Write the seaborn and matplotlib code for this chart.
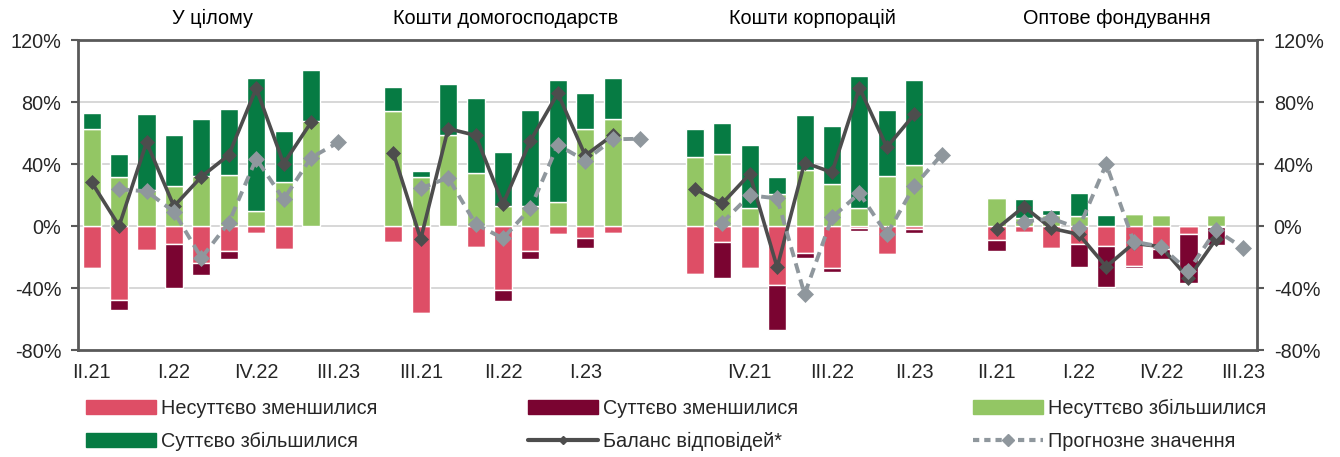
import numpy as np
import seaborn as sns
import matplotlib.pyplot as plt
import matplotlib.transforms as mtransforms
from matplotlib.patches import Patch
from matplotlib.lines import Line2D

# Дані: частки відповідей (%) по кварталах, окремо для кожної панелі
quarters = ["II.21", "III.21", "IV.21", "I.22", "II.22", "III.22", "IV.22", "I.23", "II.23", "III.23"]
panels = ["У цілому", "Кошти домогосподарств", "Кошти корпорацій", "Оптове фондування"]

# У цілому
total_weak_dec = [-27.3, -47.7, -15.5, -11.8, -23.9, -16.3, -4.7, -14.8, 0.0]
total_strong_dec = [0.0, -6.5, 0.0, -28.0, -7.5, -5.2, 0.0, 0.0, 0.0]
total_weak_inc = [62.6, 31.6, 23.2, 26.0, 32.5, 32.7, 9.7, 28.4, 67.5]
total_strong_inc = [10.5, 14.6, 49.3, 32.5, 36.3, 42.6, 85.8, 33.1, 33.1]
total_balance = [28.2, 0.0, 54.0, 12.7, 31.8, 45.8, 88.8, 40.2, 66.9]
total_forecast = [np.nan, 23.7, 22.4, 9.2, -20.6, 2.2, 43.4, 17.2, 44.1, 54.0]

# Кошти домогосподарств
hh_weak_dec = [-10.3, -56.1, 0.0, -13.3, -41.3, -15.9, -4.9, -8.0, -4.3]
hh_strong_dec = [0.0, 0.0, 0.0, -0.7, -6.9, -5.4, 0.0, -6.2, 0.0]
hh_weak_inc = [74.4, 31.6, 58.7, 34.4, 13.1, 13.1, 15.7, 62.8, 69.0]
hh_strong_inc = [15.1, 3.7, 32.9, 48.4, 34.9, 61.5, 78.7, 23.0, 26.3]
hh_balance = [47.1, -8.4, 62.8, 58.5, 14.2, 55.0, 85.6, 45.5, 58.6]
hh_forecast = [np.nan, 24.3, 31.2, 1.3, -8.0, 11.4, 52.3, 42.2, 55.9, 56.3]

# Кошти корпорацій
corp_weak_dec = [-31.2, -10.1, -26.9, -38.1, -17.6, -26.9, -1.1, -18.1, -1.9]
corp_strong_dec = [0.0, -23.2, 0.0, -29.0, -3.3, -3.0, -1.9, 0.0, -2.4]
corp_weak_inc = [44.7, 46.5, 11.8, 20.6, 36.1, 27.1, 11.4, 32.3, 39.1]
corp_strong_inc = [17.7, 19.7, 40.5, 11.0, 35.7, 37.6, 85.4, 42.3, 55.3]
corp_balance = [23.9, 14.6, 33.5, -26.7, 40.9, 34.6, 89.2, 50.8, 72.0]
corp_forecast = [np.nan, 2.2, 19.8, 17.8, -44.1, 5.6, 21.1, -5.4, 25.8, 46.0]

# Оптове фондування
whs_weak_dec = [-9.0, -3.7, -14.0, -11.6, -12.7, -25.6, -14.8, -5.4, -0.5]
whs_strong_dec = [-7.1, 0.0, 0.0, -14.9, -26.9, -1.7, -6.5, -31.4, -11.8]
whs_weak_inc = [18.3, 4.9, 7.1, 6.5, 0.0, 8.0, 6.9, 0.0, 7.1]
whs_strong_inc = [0.4, 12.3, 3.2, 14.6, 7.1, 0.4, 0.0, 0.0, 0.0]
whs_balance = [-1.9, 12.5, -1.5, -5.4, -26.2, -11.2, -13.3, -33.8, -8.6]
whs_forecast = [np.nan, 2.8, 4.9, -1.5, 40.0, -10.1, -13.3, -29.0, -2.6, -14.3]

panel_data = [
    (total_weak_dec, total_strong_dec, total_weak_inc, total_strong_inc, total_balance, total_forecast),
    (hh_weak_dec, hh_strong_dec, hh_weak_inc, hh_strong_inc, hh_balance, hh_forecast),
    (corp_weak_dec, corp_strong_dec, corp_weak_inc, corp_strong_inc, corp_balance, corp_forecast),
    (whs_weak_dec, whs_strong_dec, whs_weak_inc, whs_strong_inc, whs_balance, whs_forecast),
]

c_weak_dec = "#DE4E66"
c_strong_dec = "#7A0431"
c_weak_inc = "#93C664"
c_strong_inc = "#067B43"
c_balance = "#4D4D4D"
c_forecast = "#8F979D"

sns.set_theme(style="white")
plt.rcParams["font.family"] = ["Liberation Sans", "DejaVu Sans"]
fs = 14.3

fig = plt.figure(figsize=(13.4, 4.57), dpi=100)
ax = fig.add_axes([78 / 1340, 1 - 350 / 457, (1257 - 78) / 1340, 310 / 457])

step = len(quarters) + 1  # одна порожня позиція між панелями
width = 0.66
title_x = [4.4, 15.1, 26.3, 37.4]

for p, (wd, sd, wi, si, bal, fc) in enumerate(panel_data):
    xb = p * step + np.arange(len(wd))
    wd, sd, wi, si = map(np.array, (wd, sd, wi, si))
    ax.bar(xb, wd, width=width, color=c_weak_dec, zorder=2)
    ax.bar(xb, sd, bottom=wd, width=width, color=c_strong_dec, zorder=2)
    ax.bar(xb, wi, width=width, color=c_weak_inc, zorder=2)
    ax.bar(xb, si, bottom=wi, width=width, color=c_strong_inc, zorder=2)

    sns.lineplot(x=xb, y=bal, ax=ax, color=c_balance, linewidth=2.6, marker="D",
                 markersize=7.5, markeredgecolor=c_balance, markeredgewidth=0.5, zorder=3)
    xf = p * step + np.arange(len(fc))
    fcs = np.array(fc)
    ok = ~np.isnan(fcs)
    sns.lineplot(x=xf[ok], y=fcs[ok], ax=ax, color=c_forecast, linewidth=2.8,
                 linestyle=(0, (2.6, 1.7)), marker="D", markersize=8,
                 markeredgecolor=c_forecast, markeredgewidth=0.5, zorder=4)

    trans = mtransforms.blended_transform_factory(ax.transData, ax.transAxes)
    ax.text(title_x[p], 1.07, panels[p], transform=trans, ha="center", va="center",
            fontsize=fs, color="black")

n_pos = 4 * step - 1
ax.set_xlim(-0.5, n_pos - 0.5)
ax.set_ylim(-80, 120)

tick_pos = list(range(0, n_pos, 3))
tick_lab = [quarters[k % step] if k % step < len(quarters) else "" for k in tick_pos]
ax.set_xticks(tick_pos)
ax.set_xticklabels(tick_lab, fontsize=fs)
ax.tick_params(axis="x", length=0, pad=9)

yt = [-80, -40, 0, 40, 80, 120]
ax.set_yticks(yt)
ax.set_yticklabels([f"{v}%" for v in yt], fontsize=fs)
ax.tick_params(axis="y", left=True, right=True, labelleft=True, labelright=True,
               direction="out", length=5, width=1.5, color="#595959", pad=7)

for v in [-40, 0, 40, 80]:
    ax.axhline(v, color="#D4D4D4", linewidth=1.3, zorder=1)
for s in ax.spines.values():
    s.set_color("#595959")
    s.set_linewidth(2)

h_wd = Patch(color=c_weak_dec)
h_sd = Patch(color=c_strong_dec)
h_wi = Patch(color=c_weak_inc)
h_si = Patch(color=c_strong_inc)
h_bal = Line2D([], [], color=c_balance, linewidth=3, marker="D", markersize=4)
h_fc = Line2D([], [], color=c_forecast, linewidth=3, linestyle=(0, (1.5, 1.2)),
              marker="D", markersize=6)

cols = [
    (86, [h_wd, h_si], ["Несуттєво зменшилися", "Суттєво збільшилися"]),
    (528, [h_sd, h_bal], ["Суттєво зменшилися", "Баланс відповідей*"]),
    (973, [h_wi, h_fc], ["Несуттєво збільшилися", "Прогнозне значення"]),
]
for x0, hs, ls in cols:
    fig.legend(hs, ls, loc="upper left", bbox_to_anchor=(x0 / 1340, 1 - 399 / 457),
               frameon=False, fontsize=fs, handlelength=3.5, handleheight=0.7,
               handletextpad=0.3, labelspacing=0.72, borderpad=0, borderaxespad=0)

fig.savefig("out.png", dpi=100)
